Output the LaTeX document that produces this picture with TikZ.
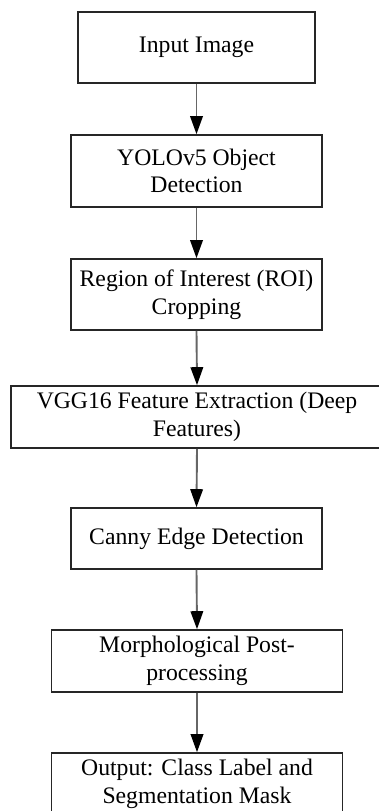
\documentclass[tikz,border=0pt]{standalone}
\usepackage{fontspec}
\setmainfont{Liberation Serif}
\usetikzlibrary{arrows.meta}
\tikzset{
  box/.style={draw=black!85, line width=1.6pt, align=center, inner sep=0pt,
    font=\fontsize{23.7}{27.7}\selectfont, text=black},
  arr/.style={draw=black!60, line width=1.9pt,
    -{Triangle[length=18pt,width=12.5pt,color=black]}}
}
\begin{document}
\begin{tikzpicture}[x=1pt,y=-1pt]
\useasboundingbox (0,0) rectangle (379,811);
\node[box, minimum width=237pt, minimum height=71pt] (b1) at (196.5,47.5) {Input Image};
\node[box, minimum width=251pt, minimum height=72pt] (b2) at (196.5,171) {YOLOv5 Object\\Detection};
\node[box, minimum width=251pt, minimum height=71pt] (b3) at (196.5,294.5) {Region of Interest (ROI)\\Cropping};
\node[box, minimum width=372pt, minimum height=62pt] (b4) at (197,417) {VGG16 Feature Extraction (Deep\\Features)};
\node[box, minimum width=251pt, minimum height=61pt] (b5) at (196.5,538.5) {Canny Edge Detection};
\node[box, minimum width=291pt, minimum height=62pt] (b6) at (197,661) {Morphological Post-\\processing};
\node[box, minimum width=291pt, minimum height=62pt] (b7) at (197,784) {Output: Class Label and\\Segmentation Mask};
\draw[arr] (b1.south) -- (b2.north);
\draw[arr] (b2.south) -- (b3.north);
\draw[arr] (b3.south) -- (b4.north);
\draw[arr] (b4.south) -- (b5.north);
\draw[arr] (b5.south) -- (b6.north);
\draw[arr] (b6.south) -- (b7.north);
\end{tikzpicture}
\end{document}
